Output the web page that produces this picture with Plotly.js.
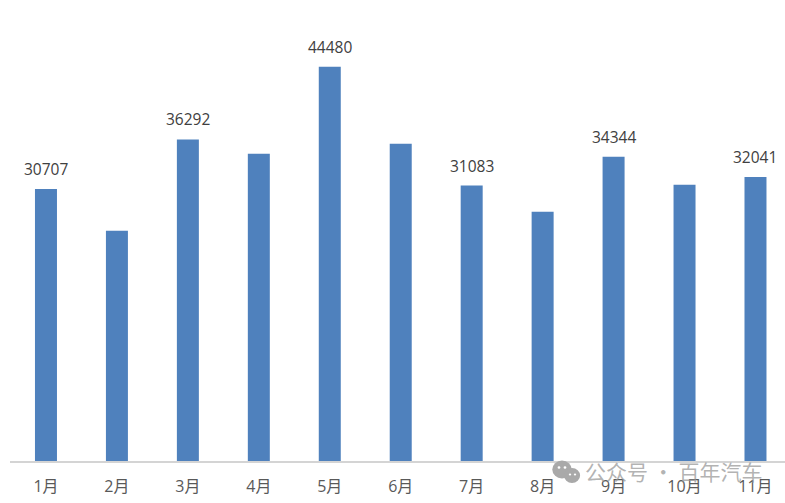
<!DOCTYPE html>
<html>
<head>
<meta charset="utf-8">
<script src="https://cdn.plot.ly/plotly-3.0.1.min.js"></script>
<style>html,body{margin:0;padding:0;background:#fff;overflow:hidden}#chart{width:785px;height:503px}</style>
</head>
<body>
<div id="chart"></div>
<script>
const months = ['1月','2月','3月','4月','5月','6月','7月','8月','9月','10月','11月'];
const sales = [30707,25990,36292,34670,44480,35800,31083,28130,34344,31170,32041];
const labelled = ['1月','3月','5月','7月','9月','11月'];
const labelledValues = [30707,36292,44480,31083,34344,32041];
const watermark = '公众号 · 百年汽车';

const W=785,H=503,L=10,T=0,R=0,B=41.5;
const px=x=>(x-L)/(W-L-R);
const py=y=>(H-B-y)/(H-T-B);
const circle=(cx,cy,r,color)=>({type:'circle',xref:'paper',yref:'paper',layer:'above',
  x0:px(cx-r*1.08),x1:px(cx+r*1.08),y0:py(cy+r),y1:py(cy-r),
  fillcolor:color,line:{width:0},opacity:1});
const font='"Open Sans","Noto Sans CJK SC",sans-serif';

Plotly.newPlot('chart',[{
  type:'bar',x:months,y:sales,width:0.31,
  marker:{color:'#4f81bd',line:{width:0}},
  hoverinfo:'skip'
}],{
  width:W,height:H,
  margin:{l:L,r:R,t:T,b:B,pad:0},
  paper_bgcolor:'#fff',plot_bgcolor:'#fff',
  showlegend:false,
  xaxis:{type:'category',range:[-0.507,10.416],showgrid:false,zeroline:false,
    showline:true,linecolor:'#d4d4d4',linewidth:2,ticks:'',
    ticklabelstandoff:10,tickfont:{family:font,size:16,color:'#595959'},automargin:false},
  yaxis:{range:[0,52020],visible:false,fixedrange:true},
  annotations:[
    ...labelled.map((m,i)=>({x:m,y:labelledValues[i],text:String(labelledValues[i]),
      showarrow:false,yanchor:'bottom',yshift:7,
      font:{family:font,size:15.5,color:'#404040'}})),
    {xref:'paper',yref:'paper',x:px(673.5),y:py(472),text:watermark,showarrow:false,
      xanchor:'center',yanchor:'middle',font:{family:'"Noto Sans CJK SC",sans-serif',size:21,color:'rgba(150,150,150,0.72)'}}
  ],
  shapes:[
    circle(562,470,9,'#a9a9a9'),
    circle(572,476,7.5,'#a9a9a9'),
    circle(559,468,1.3,'#fff'),circle(565,468,1.3,'#fff'),
    circle(570,475,1.1,'#fff'),circle(575,475,1.1,'#fff')
  ]
},{displayModeBar:false,staticPlot:true});
</script>
</body>
</html>
